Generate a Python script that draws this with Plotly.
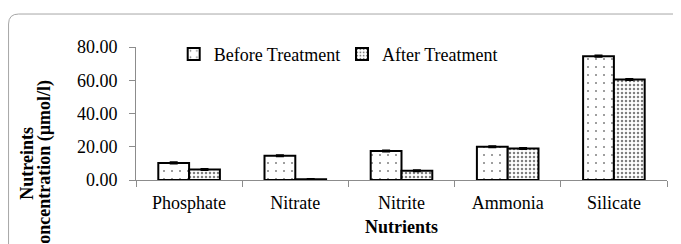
import plotly.graph_objects as go

categories = ["Phosphate", "Nitrate", "Nitrite", "Ammonia", "Silicate"]
before = [10.3, 14.6, 17.5, 20.0, 74.5]
after = [6.3, 0.5, 5.5, 19.0, 60.5]
before_err = [0.4, 0.3, 0.3, 0.3, 0.4]
after_err = [0.3, 0.1, 0.3, 0.3, 0.3]
y_ticks = [0, 20, 40, 60, 80]

FONT = "Liberation Serif"
FS = 18

fig = go.Figure()
fig.add_trace(go.Bar(
    x=categories, y=before, name="Before Treatment", legend="legend",
    marker=dict(color="white", line=dict(color="black", width=2),
                pattern=dict(shape=".", fgcolor="black", bgcolor="white", size=8, solidity=0.05)),
    error_y=dict(type="data", array=before_err, color="black", thickness=2, width=4),
))
fig.add_trace(go.Bar(
    x=categories, y=after, name="After Treatment", legend="legend2",
    marker=dict(color="white", line=dict(color="black", width=2),
                pattern=dict(shape=".", fgcolor="black", bgcolor="white", size=4, solidity=0.3)),
    error_y=dict(type="data", array=after_err, color="black", thickness=2, width=4),
))

legend_common = dict(orientation="h", yanchor="middle", xanchor="left", y=0.945,
                     bgcolor="rgba(0,0,0,0)", font=dict(family=FONT, size=FS, color="black"),
                     itemwidth=30)

fig.update_layout(
    width=681, height=244,
    margin=dict(l=128, r=22, t=39, b=72),
    paper_bgcolor="white", plot_bgcolor="white",
    barmode="group", bargap=0.42, bargroupgap=0,
    font=dict(family=FONT, size=FS, color="black"),
    showlegend=True,
    legend=dict(x=0.071, **legend_common),
    legend2=dict(x=0.388, **legend_common),
    xaxis=dict(showline=True, linecolor="#8c8c8c", linewidth=1, ticks="outside",
               tickson="boundaries", ticklen=6, tickcolor="#8c8c8c", ticklabelstandoff=6,
               tickfont=dict(family=FONT, size=FS, color="black"),
               title=dict(text="<b>Nutrients</b>", font=dict(family=FONT, size=FS, color="black"), standoff=8)),
    yaxis=dict(range=[0, 80], tickvals=y_ticks, tickformat=".2f", showgrid=False,
               showline=True, linecolor="#8c8c8c", linewidth=1, ticks="outside",
               ticklen=6, tickcolor="#8c8c8c", ticklabelstandoff=8,
               tickfont=dict(family=FONT, size=FS, color="black"),
               zeroline=False),
    annotations=[
        dict(text="<b>Nutreints</b>", xref="paper", yref="paper",
             x=(27 - 136) / 531, y=(180.3 - 164) / 133.3, textangle=-90, showarrow=False,
             font=dict(family=FONT, size=FS, color="black"), xanchor="center", yanchor="middle"),
        dict(text="<b>concentration (µmol/l)</b>", xref="paper", yref="paper",
             x=(45 - 136) / 531, y=(180.3 - 166) / 133.3, textangle=-90, showarrow=False,
             font=dict(family=FONT, size=FS, color="black"), xanchor="center", yanchor="middle"),
    ],
    shapes=[dict(type="path", xref="paper", yref="paper",
                 path="M -0.240,-0.6 L -0.240,1.173 Q -0.240,1.248 -0.221,1.248 L 1.1,1.248",
                 line=dict(color="#a6a6a6", width=1))],
)

fig.write_html("out.html")
